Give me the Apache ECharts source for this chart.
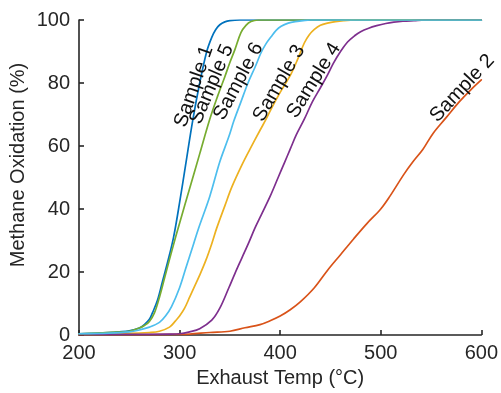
<!DOCTYPE html>
<html>
<head>
<meta charset="utf-8">
<script src="https://cdn.jsdelivr.net/npm/echarts@6/dist/echarts.min.js"></script>
<style>
  html, body { margin: 0; padding: 0; background: #fff; }
  #chart { width: 501px; height: 393px; }
</style>
</head>
<body>
<div id="chart"></div>
<script>
// values
const sampleNames = ['Sample 1', 'Sample 2', 'Sample 3', 'Sample 4', 'Sample 5', 'Sample 6'];

const s1Temp = [200, 220, 240, 250, 260, 265, 270, 273, 278, 283, 288, 294, 300, 306, 313, 320, 327, 332, 336, 340, 345, 350, 360, 600];
const s1Ox = [0.4, 0.6, 1, 1.3, 2.2, 3.3, 5, 7, 11, 17, 23, 31, 42, 54, 68, 80, 90, 94.5, 97, 98.5, 99.4, 99.8, 100, 100];

const s2Temp = [200, 250, 300, 310, 330, 350, 365, 380, 390, 400, 410, 420, 434, 447, 460, 473, 486, 500, 509, 523, 532, 542, 552, 565, 578, 590, 600];
const s2Ox = [0.1, 0.1, 0.2, 0.3, 0.8, 1.2, 2.3, 3.3, 4.5, 6, 8, 10.5, 15, 20.5, 25.5, 30.5, 35.3, 40, 44, 51, 55, 59, 64, 69, 74, 78, 81];

const s3Temp = [200, 250, 270, 280, 290, 296, 300, 305, 310, 315, 320, 326, 332, 337, 345, 352, 362, 370, 380, 386, 391, 400, 411, 418, 424, 429, 434, 440, 447, 455, 463, 475, 600];
const s3Ox = [0.3, 0.5, 0.8, 1.2, 2.5, 4.5, 6, 8.5, 12, 15.5, 19, 23.6, 29, 34, 41, 47, 54, 59, 65, 68.5, 71.7, 77, 83, 88, 92.7, 95.3, 97, 98.3, 99, 99.5, 99.8, 100, 100];

const s4Temp = [200, 250, 290, 300, 310, 320, 332, 340, 349, 355, 362, 369, 375, 381, 390, 398, 404, 410, 416, 424, 432, 440, 447, 453, 460, 467, 474, 480, 488, 496, 505, 513, 522, 533, 545, 600];
const s4Ox = [0.2, 0.2, 0.3, 0.4, 1, 2, 4.7, 8.5, 15, 19.5, 24.5, 29.5, 34, 38, 44, 50, 54.5, 59, 63.5, 68.5, 74, 78.5, 82.5, 86.3, 90, 93, 95, 96.3, 97.4, 98.2, 98.9, 99.3, 99.6, 99.8, 100, 100];

const s5Temp = [200, 240, 250, 260, 265, 270, 275, 280, 285, 290, 296, 300, 310, 320, 330, 338, 345, 350, 355, 361, 366, 371, 378, 600];
const s5Ox = [0.4, 0.9, 1.2, 2.2, 3, 4.3, 7, 12, 18, 24, 31, 35.5, 46.5, 57.5, 68.5, 76, 82, 86.5, 90.6, 96, 98.3, 99.5, 100, 100];

const s6Temp = [200, 230, 250, 260, 270, 280, 286, 292, 300, 306, 314, 319, 330, 340, 349, 354, 361, 368, 375, 381, 386, 391, 396, 401, 408, 415, 425, 430, 600];
const s6Ox = [0.4, 0.6, 1, 1.6, 2.5, 4, 6, 9, 15, 21, 29, 34, 44, 55, 63, 68, 74, 80, 85, 89.6, 92.5, 94.7, 96.7, 98, 99, 99.5, 99.9, 100, 100];

const xTicks = [200, 300, 400, 500, 600];
const yTicks = [0, 20, 40, 60, 80, 100];

const colors = ['#0072BD', '#D95319', '#EDB120', '#7E2F8E', '#77AC30', '#4DBEEE'];
const temps = [s1Temp, s2Temp, s3Temp, s4Temp, s5Temp, s6Temp];
const oxs = [s1Ox, s2Ox, s3Ox, s4Ox, s5Ox, s6Ox];

const axisColor = '#262626';
const font = 'Liberation Sans, Arial, Helvetica, sans-serif';

const chart = echarts.init(document.getElementById('chart'));

const option = {
  animation: false,
  grid: { left: 79, right: 16, top: 20, bottom: 55 },
  xAxis: {
    type: 'value',
    min: xTicks[0],
    max: xTicks[xTicks.length - 1],
    interval: 100,
    name: 'Exhaust Temp (°C)',
    nameLocation: 'middle',
    nameGap: 33,
    nameTextStyle: { color: axisColor, fontSize: 20, fontFamily: font },
    axisLine: { lineStyle: { color: axisColor, width: 1.6 } },
    axisTick: { inside: true, length: 5, lineStyle: { color: axisColor, width: 1.6 } },
    axisLabel: { color: axisColor, fontSize: 20, fontFamily: font, margin: 8 },
    splitLine: { show: false },
  },
  yAxis: {
    type: 'value',
    min: yTicks[0],
    max: yTicks[yTicks.length - 1],
    interval: 20,
    axisLine: { show: true, lineStyle: { color: axisColor, width: 1.6 } },
    axisTick: { show: true, inside: true, length: 5, lineStyle: { color: axisColor, width: 1.6 } },
    axisLabel: { color: axisColor, fontSize: 20, fontFamily: font, margin: 9 },
    splitLine: { show: false },
  },
  series: sampleNames.map((name, i) => {
    return {
      name: name,
      type: 'line',
      data: temps[i].map((t, j) => [t, oxs[i][j]]),
      smooth: 0.35,
      showSymbol: false,
      sampling: 'none',
      lineStyle: { color: colors[i], width: 1.7, join: 'round', cap: 'round' },
      z: 2,
    };
  }),
};
chart.setOption(option);

// curve labels, placed at data coordinates and rotated along the curves
const labelSpots = [
  { text: 'Sample 1', t: 314.3, ox: 78.9, angle: 71 },
  { text: 'Sample 5', t: 332, ox: 79.6, angle: 67 },
  { text: 'Sample 6', t: 358.6, ox: 80.5, angle: 62 },
  { text: 'Sample 3', t: 399, ox: 79.9, angle: 60 },
  { text: 'Sample 4', t: 433.5, ox: 80.8, angle: 58 },
  { text: 'Sample 2', t: 581, ox: 78.3, angle: 47 },
];

const graphics = labelSpots.map((s) => {
  const p = chart.convertToPixel({ gridIndex: 0 }, [s.t, s.ox]);
  return {
    type: 'text',
    x: p[0],
    y: p[1],
    rotation: (s.angle * Math.PI) / 180,
    z: 10,
    style: {
      text: s.text,
      x: 0,
      y: 0,
      align: 'center',
      verticalAlign: 'middle',
      fill: '#111',
      fontSize: 20,
      fontFamily: font,
    },
  };
});

graphics.push({
  type: 'text',
  x: 18,
  y: 165,
  rotation: Math.PI / 2,
  style: {
    text: 'Methane Oxidation (%)',
    x: 0,
    y: 0,
    align: 'center',
    verticalAlign: 'middle',
    fill: axisColor,
    fontSize: 20,
    fontFamily: font,
  },
});

chart.setOption({ graphic: graphics });
</script>
</body>
</html>
